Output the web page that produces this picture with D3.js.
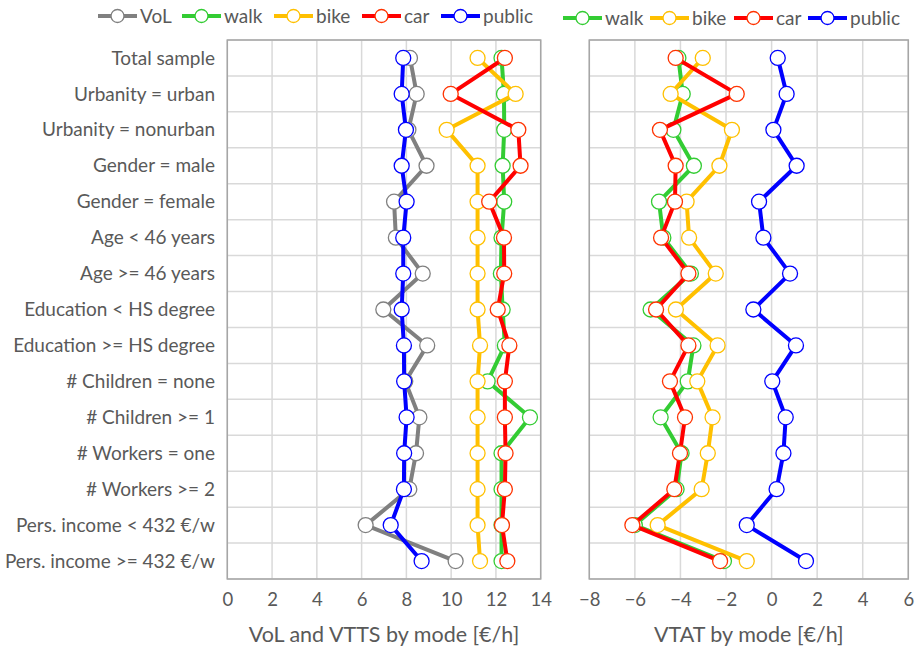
<!DOCTYPE html>
<html><head><meta charset="utf-8">
<script src="https://cdn.jsdelivr.net/npm/d3@7"></script>
<style>
body{margin:0;background:#fff;}
svg text{font-family:Lato,"Open Sans",sans-serif;fill:#595959;}
</style></head>
<body><svg id="c" width="917" height="647"></svg>
<script>
const categories = ["Total sample","Urbanity = urban","Urbanity = nonurban","Gender = male","Gender = female","Age < 46 years","Age >= 46 years","Education < HS degree","Education >= HS degree","# Children = none","# Children >= 1","# Workers = one","# Workers >= 2","Pers. income < 432 €/w","Pers. income >= 432 €/w"];

// Left panel: VoL and VTTS by mode [€/h]
const volValues    = [8.16,8.46,8.09,8.90,7.45,7.53,8.73,6.97,8.93,7.95,8.58,8.43,8.13,6.18,10.20];
const walkVTTS     = [12.25,12.36,12.37,12.30,12.37,12.25,12.22,12.30,12.40,11.63,13.52,12.25,12.25,12.25,12.25];
const bikeVTTS     = [11.18,12.88,9.80,11.18,11.18,11.18,11.18,11.18,11.29,11.18,11.18,11.18,11.18,11.18,11.29];
const carVTTS      = [12.40,9.98,13.00,13.10,11.70,12.36,12.37,12.08,12.60,12.40,12.40,12.43,12.40,12.27,12.51];
const publicVTTS   = [7.86,7.79,7.98,7.79,8.01,7.86,7.86,7.79,7.89,7.90,8.01,7.90,7.89,7.30,8.68];

// Right panel: VTAT by mode [€/h]
const walkVTAT     = [-4.09,-3.90,-4.31,-3.41,-4.94,-4.75,-3.54,-5.31,-3.43,-3.68,-4.87,-3.95,-4.17,-6.00,-2.09];
const bikeVTAT     = [-3.02,-4.43,-1.74,-2.29,-3.73,-3.62,-2.45,-4.20,-2.37,-3.26,-2.59,-2.80,-3.07,-5.00,-1.09];
const carVTAT      = [-4.21,-1.53,-4.90,-4.21,-4.24,-4.85,-3.65,-5.07,-3.65,-4.46,-3.80,-4.02,-4.27,-6.11,-2.26];
const publicVTAT   = [0.27,0.66,0.08,1.10,-0.55,-0.36,0.81,-0.80,1.07,0.03,0.62,0.52,0.22,-1.09,1.51];

const leftTicks  = [0,2,4,6,8,10,12,14];
const rightTicks = [-8,-6,-4,-2,0,2,4,6];
const leftTitle  = "VoL and VTTS by mode [€/h]";
const rightTitle = "VTAT by mode [€/h]";

const colors = {VoL:"#808080", walk:"#33CC33", bike:"#FFC000", car:"#FF0000", public:"#0000FF"};
const markerStroke = {VoL:"#808080", walk:"#33CC33", bike:"#FFC000", car:"#FF3300", public:"#0000FF"};

const leftSeries = [
  {name:"VoL", values:volValues},
  {name:"walk", values:walkVTTS},
  {name:"bike", values:bikeVTTS},
  {name:"car", values:carVTTS},
  {name:"public", values:publicVTTS}
];
const rightSeries = [
  {name:"walk", values:walkVTAT},
  {name:"bike", values:bikeVTAT},
  {name:"car", values:carVTAT},
  {name:"public", values:publicVTAT}
];

const svg = d3.select("#c");
const plotTop = 40, plotBottom = 579;
const y = d3.scaleBand().domain(categories).range([plotTop,plotBottom]).padding(0);
const yc = c => y(c) + y.bandwidth()/2;

function panel(x0, x1, ticks, series, title, legendY, legendPos){
  const x = d3.scaleLinear().domain([ticks[0], ticks[ticks.length-1]]).range([x0,x1]);
  const g = svg.append("g");
  g.append("g").selectAll("line").data(ticks).join("line")
    .attr("x1",d=>x(d)).attr("x2",d=>x(d)).attr("y1",plotTop).attr("y2",plotBottom)
    .attr("stroke","#d9d9d9").attr("stroke-width",1.5);
  const bounds = categories.map(c=>y(c)).concat([plotBottom]);
  g.append("g").selectAll("line").data(bounds).join("line")
    .attr("x1",x0).attr("x2",x1).attr("y1",d=>d).attr("y2",d=>d)
    .attr("stroke","#d9d9d9").attr("stroke-width",1.5);
  g.append("rect").attr("x",x0).attr("y",plotTop).attr("width",x1-x0).attr("height",plotBottom-plotTop)
    .attr("fill","none").attr("stroke","#a6a6a6").attr("stroke-width",1.5);
  const ax = d3.axisBottom(x).tickValues(ticks).tickSize(0).tickPadding(0);
  const axg = g.append("g").attr("transform",`translate(0,${plotBottom})`).call(ax);
  axg.select(".domain").remove();
  axg.selectAll("text").attr("y",21).attr("dy","0.35em").style("font-size","18.5px")
    .style("font-family","Lato, 'Open Sans', sans-serif").attr("fill","#595959");
  g.append("text").attr("x",(x0+x1)/2).attr("y",634).attr("dy","0.35em")
    .attr("text-anchor","middle").style("font-size","21.5px").text(title);
  const line = d3.line().x(d=>x(d.v)).y(d=>yc(d.c));
  series.forEach(s=>{
    const pts = s.values.map((v,i)=>({v, c:categories[i]}));
    const sg = g.append("g");
    sg.append("path").datum(pts).attr("d",line).attr("fill","none")
      .attr("stroke",colors[s.name]).attr("stroke-width",4).attr("stroke-linejoin","round");
    sg.selectAll("circle").data(pts).join("circle")
      .attr("cx",d=>x(d.v)).attr("cy",d=>yc(d.c)).attr("r",7.5)
      .attr("fill","#fff").attr("stroke",markerStroke[s.name]).attr("stroke-width",1.3);
  });
  const lg = svg.append("g");
  series.forEach((s,i)=>{
    const lx = legendPos[i];
    lg.append("line").attr("x1",lx).attr("x2",lx+39).attr("y1",legendY).attr("y2",legendY)
      .attr("stroke",colors[s.name]).attr("stroke-width",4);
    lg.append("circle").attr("cx",lx+19.5).attr("cy",legendY).attr("r",6.5)
      .attr("fill","#fff").attr("stroke",markerStroke[s.name]).attr("stroke-width",1.3);
    lg.append("text").attr("x",lx+42).attr("y",legendY).attr("dy","0.35em")
      .style("font-size","19px").text(s.name);
  });
  return x;
}

panel(227.3, 540.7, leftTicks, leftSeries, leftTitle, 16, [98,182,274,362,441]);
panel(589.3, 908.3, rightTicks, rightSeries, rightTitle, 18, [563,650,734,808]);

svg.append("g").selectAll("text").data(categories).join("text")
  .attr("x",215).attr("y",d=>yc(d)).attr("dy","0.35em").attr("text-anchor","end")
  .style("font-size","19px").text(d=>d);
</script></body></html>
